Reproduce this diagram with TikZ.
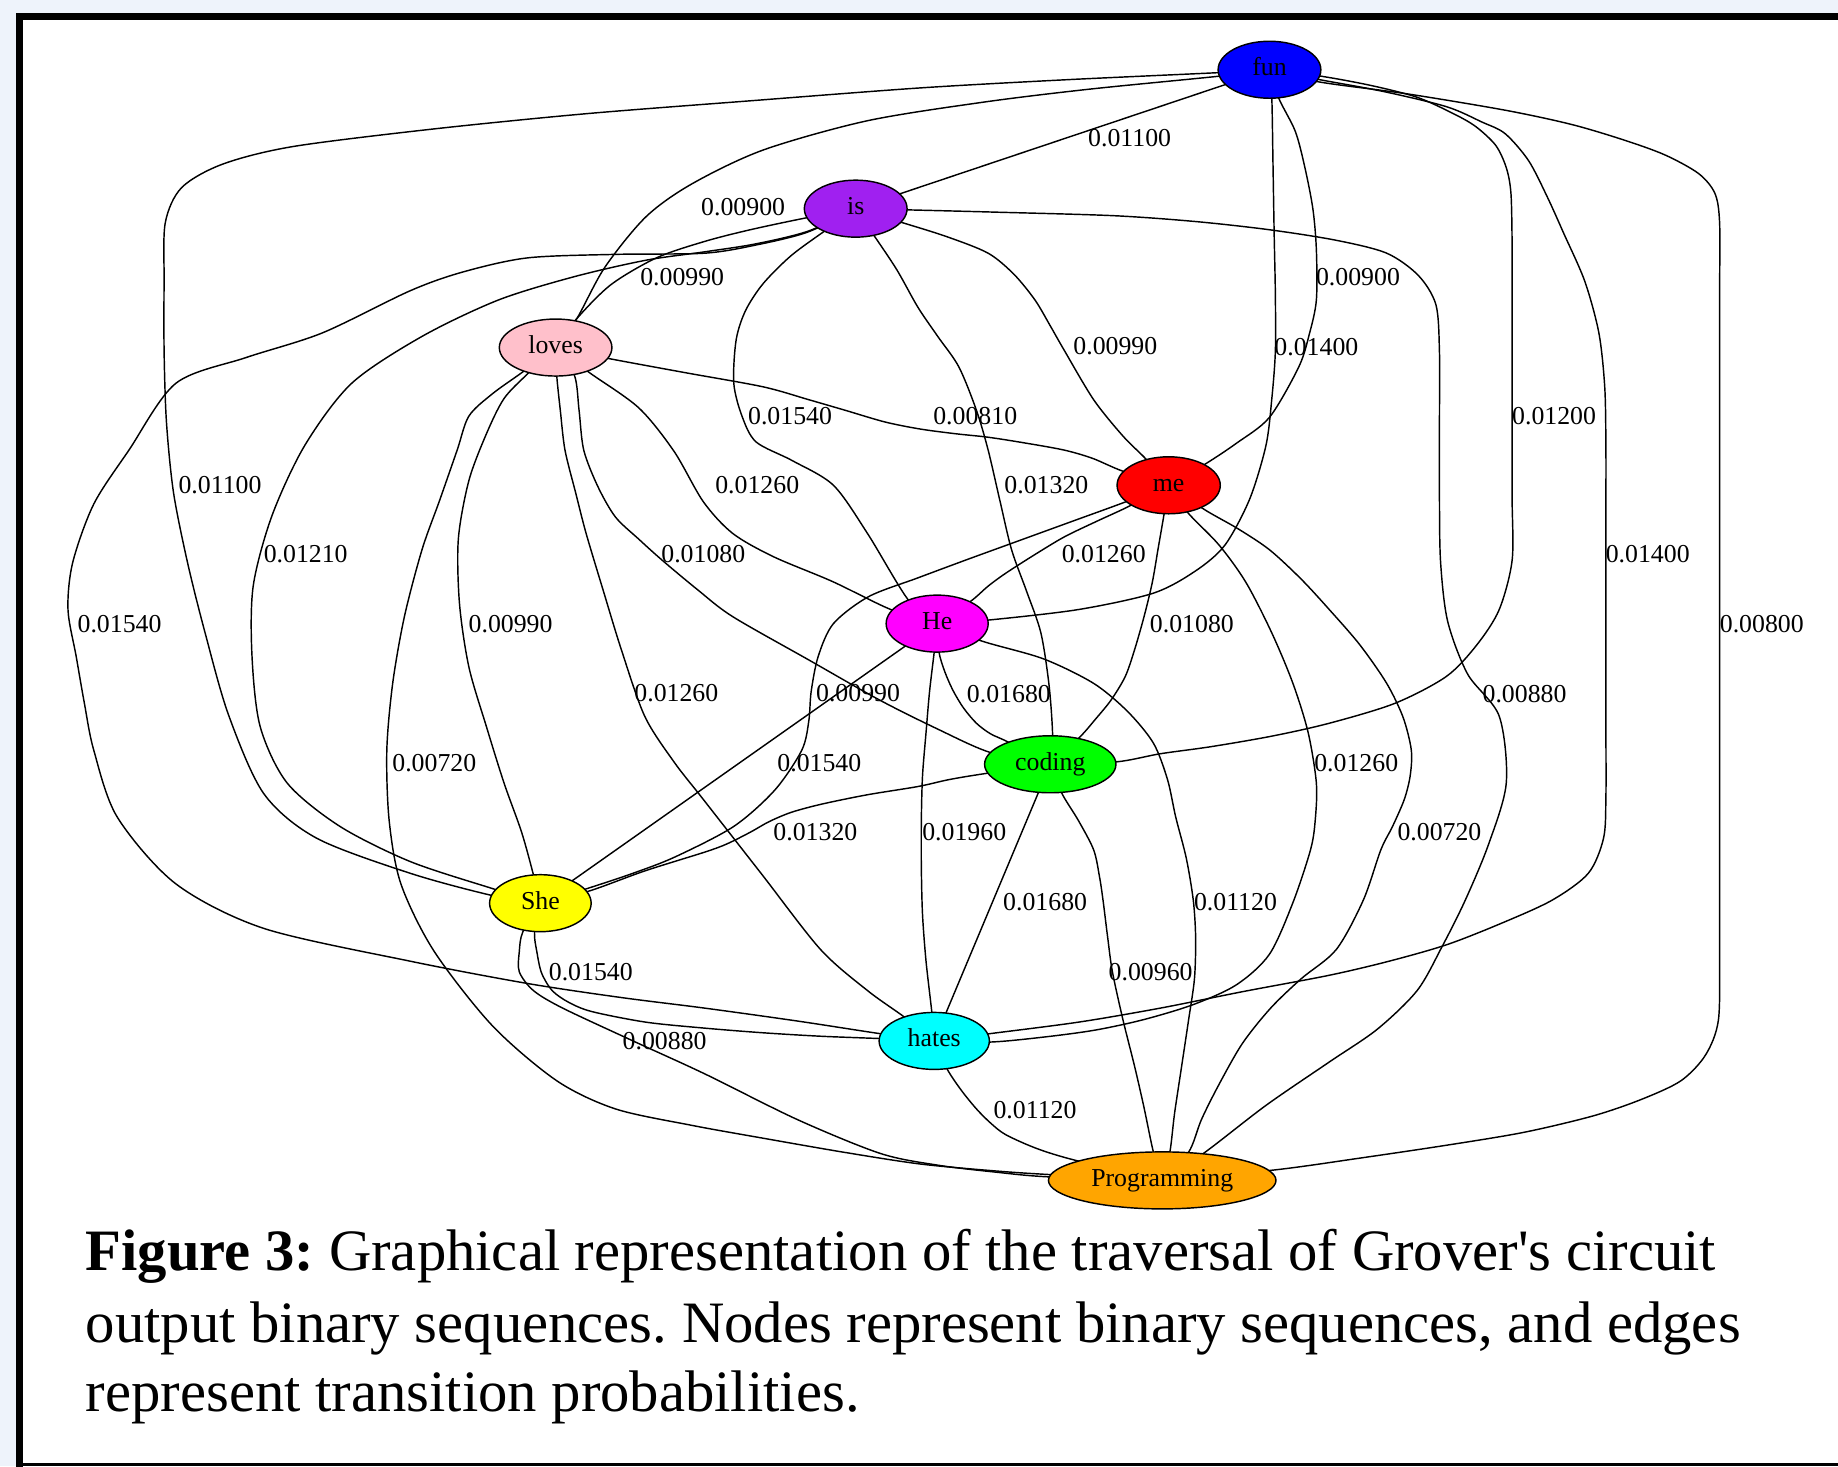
\documentclass[tikz,border=0pt]{standalone}
\usepackage{fontspec}
\setmainfont{Liberation Serif}
\usetikzlibrary{shapes.geometric}
\pgfdeclarelayer{framelayer}
\pgfdeclarelayer{edgelayer}
\pgfsetlayers{framelayer,edgelayer,main}
\definecolor{bgblue}{RGB}{238,243,251}
\definecolor{gvblue}{RGB}{0,0,255}
\definecolor{gvpurple}{RGB}{160,32,240}
\definecolor{gvpink}{RGB}{255,192,203}
\definecolor{gvred}{RGB}{255,0,0}
\definecolor{gvmagenta}{RGB}{255,0,255}
\definecolor{gvgreen}{RGB}{0,255,0}
\definecolor{gvyellow}{RGB}{255,255,0}
\definecolor{gvcyan}{RGB}{0,255,255}
\definecolor{gvorange}{RGB}{255,165,0}
\tikzset{
  wnode/.style={ellipse, draw=black, line width=0.35pt, inner sep=0pt, minimum height=0.486cm,
    font=\fontsize{6.26}{7}\selectfont, text height=4.3pt, text depth=1.4pt},
  lbl/.style={inner sep=0pt, font=\fontsize{6.26}{7}\selectfont},
  conn/.style={draw=black, line width=0.35pt},
  captxt/.style={anchor=base west, inner sep=0pt, font=\fontsize{14.23}{17.07}\selectfont\frenchspacing}
}
\begin{document}
\begin{tikzpicture}[x=0.01cm,y=-0.01cm]
\useasboundingbox (0,0) rectangle (1568,1251);
\begin{pgfonlayer}{framelayer}
\fill[bgblue] (0,0) rectangle (1568,1251);
\fill[white] (16.5,14) rectangle (1568,1250);
\draw[line width=0.06cm] (16.5,1252) -- (16.5,14) -- (1575,14);
\draw[line width=0.025cm] (16.5,1249.5) -- (1575,1249.5);
\end{pgfonlayer}

% nodes
\node[wnode, fill=gvblue, minimum width=0.876cm] (fun) at (1083,59.5) {fun};
\node[wnode, fill=gvpurple, minimum width=0.876cm] (is) at (730,178) {is};
\node[wnode, fill=gvpink, minimum width=0.96cm] (loves) at (474,296.5) {loves};
\node[wnode, fill=gvred, minimum width=0.88cm] (me) at (997,414) {me};
\node[wnode, fill=gvmagenta, minimum width=0.87cm] (He) at (799.5,532) {He};
\node[wnode, fill=gvgreen, minimum width=1.12cm] (coding) at (896,652) {coding};
\node[wnode, fill=gvyellow, minimum width=0.866cm] (She) at (461,770.5) {She};
\node[wnode, fill=gvcyan, minimum width=0.94cm] (hates) at (797,888) {hates};
\node[wnode, fill=gvorange, minimum width=1.94cm] (Prog) at (991.5,1007) {Programming};

\begin{pgfonlayer}{edgelayer}
% fun - is
\draw[conn] (fun.center) -- (is.center);
% fun - loves
\draw[conn] plot[smooth] coordinates {(fun.center) (1040,65) (930,76) (840,87) (740,103) (651,128) (590,157) (551,185) (516,228) (492,272) (loves.center)};
% is - loves
\draw[conn] plot[smooth] coordinates {(is.center) (687,186) (640,196) (601,206) (560,220) (521,243) (491,273) (loves.center)};
% is - She
\draw[conn] plot[smooth] coordinates {(is.center) (690,197) (645,208) (600,215) (551,222) (490,236) (425,256) (360,287) (300,327) (260,380) (232,440) (216,500) (215,560) (222,620) (245,668) (290,705) (350,735) (420,758) (She.center)};
% fun - She
\draw[conn] plot[smooth] coordinates {(fun.center) (1039,62) (910,68) (785,75) (640,86) (500,97) (370,110) (250,125) (190,140) (155,160) (141,190) (140,240) (140,300) (142,360) (148,420) (160,480) (175,540) (195,610) (225,677) (270,715) (350,745) (420,764) (She.center)};
% is - hates
\draw[conn] plot[smooth] coordinates {(is.center) (689,198) (645,209) (601,216) (525,217) (450,220) (395,232) (350,248) (275,284) (210,305) (150,327) (110,384) (80,430) (62,480) (58,520) (65,560) (72,600) (80,640) (100,697) (150,754) (225,792) (350,820) (450,839) (530,851) (601,860) (680,871) (752,882) (hates.center)};
% loves - Prog
\draw[conn] plot[smooth] coordinates {(loves.center) (445,318) (420,336) (400,355) (390,384) (375,427) (360,469) (345,526) (335,583) (330,640) (332,700) (342,754) (370,811) (420,875) (475,922) (525,946) (590,960) (651,971) (720,983) (785,993) (850,999) (895,1002) (Prog.center)};
% loves - She
\draw[conn] plot[smooth] coordinates {(loves.center) (450,319) (430,340) (415,370) (400,410) (391,460) (392,515) (400,569) (415,620) (430,668) (445,710) (455,746) (She.center)};
% loves - hates
\draw[conn] plot[smooth] coordinates {(loves.center) (475,321) (478,350) (482,384) (491,420) (500,455) (515,505) (530,554) (550,611) (575,650) (600,682) (650,746) (700,810) (740,845) (772,868) (hates.center)};
% loves - coding
\draw[conn] plot[smooth] coordinates {(loves.center) (490,320) (494,350) (498,384) (510,415) (525,441) (545,460) (565,478) (595,503) (625,526) (690,563) (750,597) (800,622) (845,642) (coding.center)};
% loves - He
\draw[conn] plot[smooth] coordinates {(loves.center) (503,318) (545,348) (575,385) (600,428) (625,455) (660,475) (710,496) (760,520) (He.center)};
% is - He
\draw[conn] plot[smooth] coordinates {(is.center) (705,196) (675,218) (651,242) (636,265) (628,290) (626,327) (633,355) (645,377) (676,393) (711,414) (740,455) (775,512) (He.center)};
% is - coding
\draw[conn] plot[smooth] coordinates {(is.center) (745,200) (765,230) (783,262) (800,287) (818,313) (833,350) (843,384) (853,427) (863,469) (876,505) (888,540) (895,585) (898,628) (coding.center)};
% is - me
\draw[conn] plot[smooth] coordinates {(is.center) (770,190) (808,202) (843,216) (865,234) (883,256) (896,278) (908,299) (933,341) (958,372) (978,392) (me.center)};
% is - Prog
\draw[conn] plot[smooth] coordinates {(is.center) (773,179) (850,181) (950,184) (1020,189) (1083,196) (1140,205) (1183,216) (1210,235) (1225,260) (1228,300) (1228,360) (1228,426) (1229,480) (1235,530) (1252,575) (1279,611) (1285,668) (1270,720) (1250,768) (1230,808) (1209,845) (1175,878) (1134,906) (1080,943) (1028,983) (Prog.center)};
% fun - me
\draw[conn] plot[smooth] coordinates {(fun.center) (1091,84) (1105,112) (1113,142) (1120,178) (1123,213) (1123,256) (1117,285) (1108,313) (1083,356) (1055,378) (1028,396) (me.center)};
% fun - He
\draw[conn] plot[smooth] coordinates {(fun.center) (1085,84) (1086,140) (1087,200) (1088,250) (1088,300) (1085,340) (1080,380) (1066,426) (1045,465) (1020,487) (984,506) (920,520) (843,529) (He.center)};
% fun - coding
\draw[conn] plot[smooth] coordinates {(fun.center) (1127,65) (1170,73) (1209,83) (1240,97) (1259,108) (1276,124) (1285,143) (1289,165) (1290,210) (1290,260) (1290,310) (1290,370) (1290,426) (1290,478) (1279,520) (1260,550) (1234,577) (1190,600) (1134,617) (1085,628) (1033,637) (990,643) (952,650) (coding.center)};
% fun - hates
\draw[conn] plot[smooth] coordinates {(fun.center) (1126,68) (1180,78) (1234,91) (1264,104) (1284,114) (1304,137) (1320,168) (1334,199) (1352,240) (1364,284) (1369,330) (1370,380) (1370,440) (1370,500) (1370,560) (1370,620) (1370,680) (1368,715) (1355,745) (1324,768) (1280,788) (1234,806) (1185,820) (1134,832) (1060,846) (990,860) (920,872) (843,882) (hates.center)};
% fun - Prog
\draw[conn] plot[smooth] coordinates {(fun.center) (1126,70) (1200,80) (1284,94) (1340,106) (1384,119) (1420,132) (1449,148) (1463,165) (1467,190) (1467,250) (1467,320) (1467,390) (1467,460) (1467,530) (1467,600) (1467,670) (1467,740) (1467,810) (1466,870) (1455,900) (1434,922) (1400,938) (1359,952) (1300,966) (1234,977) (1160,988) (1088,998) (Prog.center)};
% me - coding
\draw[conn] plot[smooth] coordinates {(me.center) (993,439) (988,468) (983,497) (976,526) (968,554) (960,577) (948,597) (935,613) (921,629) (coding.center)};
% me - He
\draw[conn] plot[smooth] coordinates {(me.center) (963,432) (935,445) (908,458) (883,473) (858,489) (843,500) (828,513) (He.center)};
% me - She
\draw[conn] plot[smooth] coordinates {(me.center) (958,429) (914,445) (870,461) (826,477) (783,493) (741,509) (711,532) (698,560) (692,590) (690,615) (684,640) (661,674) (626,705) (576,731) (540,745) (501,758) (She.center)};
% He - She
\draw[conn] (He.center) -- (She.center);
% coding - She
\draw[conn] plot[smooth] coordinates {(coding.center) (840,660) (810,665) (783,671) (740,678) (701,686) (675,693) (656,701) (640,710) (620,720) (601,727) (550,743) (503,760) (She.center)};
% He - coding
\draw[conn] plot[smooth] coordinates {(He.center) (801,556) (806,573) (813,589) (822,604) (833,617) (845,626) (860,633) (coding.center)};
% He - hates
\draw[conn] plot[smooth] coordinates {(He.center) (797,556) (793,590) (790,625) (787,662) (786,700) (786,740) (787,780) (790,820) (795,864) (hates.center)};
% He - Prog
\draw[conn] plot[smooth] coordinates {(He.center) (838,547) (890,562) (933,583) (962,607) (984,634) (996,665) (1003,697) (1012,732) (1018,768) (1020,800) (1019,835) (1014,870) (1008,910) (1002,950) (998,983) (Prog.center)};
% coding - Prog
\draw[conn] plot[smooth] coordinates {(coding.center) (906,677) (920,700) (933,725) (938,748) (941,768) (945,800) (949,829) (958,870) (968,910) (976,945) (984,983) (Prog.center)};
% coding - hates
\draw[conn] (coding.center) -- (hates.center);
% me - hates
\draw[conn] plot[smooth] coordinates {(me.center) (1013,437) (1040,465) (1063,497) (1085,540) (1103,583) (1116,625) (1123,668) (1122,700) (1118,725) (1103,770) (1083,814) (1055,840) (1018,857) (975,870) (933,879) (888,885) (844,889) (hates.center)};
% me - Prog
\draw[conn] plot[smooth] coordinates {(me.center) (1028,435) (1056,451) (1083,469) (1110,494) (1134,520) (1160,550) (1183,583) (1197,612) (1204,640) (1203,662) (1198,682) (1188,705) (1178,725) (1163,768) (1140,810) (1110,835) (1084,860) (1060,890) (1040,925) (1025,955) (1014,983) (Prog.center)};
% She - hates
\draw[conn] plot[smooth] coordinates {(She.center) (456,795) (458,812) (462,830) (471,845) (485,855) (505,863) (551,872) (600,877) (650,881) (700,884) (751,886) (hates.center)};
% She - Prog
\draw[conn] plot[smooth] coordinates {(She.center) (446,795) (443,812) (443,829) (455,845) (480,860) (540,888) (601,916) (680,955) (751,984) (800,994) (850,1000) (895,1004) (Prog.center)};
% hates - Prog
\draw[conn] plot[smooth] coordinates {(hates.center) (808,912) (820,930) (833,946) (845,958) (858,968) (885,980) (918,990) (Prog.center)};
% loves - me
\draw[conn] plot[smooth] coordinates {(loves.center) (520,306) (585,318) (651,330) (690,341) (721,350) (755,360) (785,366) (815,370) (843,373) (875,378) (908,384) (932,391) (958,402) (me.center)};
\end{pgfonlayer}

% edge labels
\node[lbl] (l1) at (963.7,118) {0.01100};
\node[lbl] (l2) at (634,177) {0.00900};
\node[lbl] (l3) at (582,236) {0.00990};
\node[lbl] (l4) at (1158.5,236) {0.00900};
\node[lbl] (l5) at (951.5,295) {0.00990};
\node[lbl] (l6) at (1123,296) {0.01400};
\node[lbl] (l7) at (674,355) {0.01540};
\node[lbl] (l8) at (832,355) {0.00810};
\node[lbl] (l9) at (1325.8,355) {0.01200};
\node[lbl] (l10) at (187.7,414) {0.01100};
\node[lbl] (l11) at (646,414) {0.01260};
\node[lbl] (l12) at (892.7,414) {0.01320};
\node[lbl] (l13) at (260.8,473) {0.01210};
\node[lbl] (l14) at (600,473) {0.01080};
\node[lbl] (l15) at (941.6,473) {0.01260};
\node[lbl] (l16) at (1405.7,473) {0.01400};
\node[lbl] (l17) at (102,532) {0.01540};
\node[lbl] (l18) at (435.6,532) {0.00990};
\node[lbl] (l19) at (1016.8,532) {0.01080};
\node[lbl] (l20) at (1503,532) {0.00800};
\node[lbl] (l21) at (577,591.5) {0.01260};
\node[lbl] (l22) at (732,591.5) {0.00990};
\node[lbl] (l23) at (860.7,592) {0.01680};
\node[lbl] (l24) at (1300.6,592) {0.00880};
\node[lbl] (l25) at (370.5,651) {0.00720};
\node[lbl] (l26) at (699,651) {0.01540};
\node[lbl] (l27) at (1157,651) {0.01260};
\node[lbl] (l28) at (695.6,710) {0.01320};
\node[lbl] (l29) at (822.6,710) {0.01960};
\node[lbl] (l30) at (1228,710) {0.00720};
\node[lbl] (l31) at (891.6,770) {0.01680};
\node[lbl] (l32) at (1054,770) {0.01120};
\node[lbl] (l33) at (504,829) {0.01540};
\node[lbl] (l34) at (981.6,829) {0.00960};
\node[lbl] (l35) at (567,888) {0.00880};
\node[lbl] (l36) at (883,947) {0.01120};

% caption
\node[captxt] (cap1) at (72.5,1084) {\textbf{Figure 3:} Graphical representation of the traversal of Grover\textquotesingle s circuit};
\node[captxt] (cap2) at (72.5,1145) {output binary sequences. Nodes represent binary sequences, and edges};
\node[captxt] (cap3) at (72.5,1204.5) {represent transition probabilities.};
\end{tikzpicture}
\end{document}
